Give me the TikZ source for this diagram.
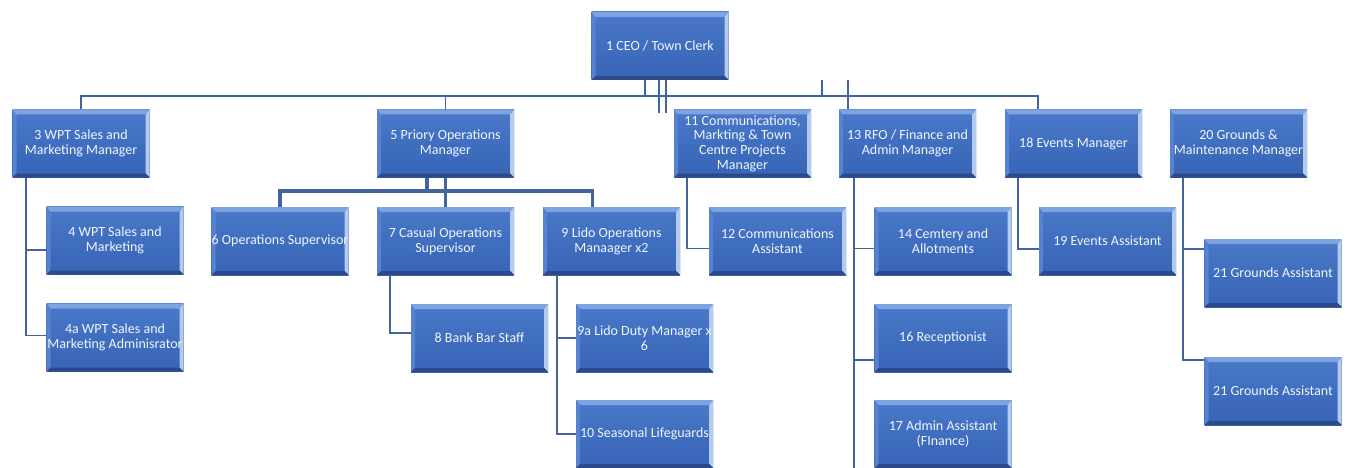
\documentclass[tikz,border=0pt]{standalone}
\usepackage{fontspec}
\setmainfont{Carlito}
\definecolor{facetop}{HTML}{4A79C9}
\definecolor{facebot}{HTML}{3764B6}
\definecolor{bevtop}{HTML}{7FA3E0}
\definecolor{bevleft}{HTML}{5682CF}
\definecolor{bevright}{HTML}{B5CBEE}
\definecolor{bevbot}{HTML}{2B4A87}
\definecolor{linkblue}{HTML}{44649C}
\definecolor{labelwhite}{HTML}{F1F5FC}
\tikzset{
  every node/.style={font=\fontsize{14}{14.7}\selectfont},
  post/.style={top color=facetop,bottom color=facebot,minimum width=137pt,minimum height=68pt,
    inner sep=0pt,align=center,text=labelwhite,
    path picture={
      \fill[bevleft] (path picture bounding box.north west)--([shift={(4pt,-5pt)}]path picture bounding box.north west)
        --([shift={(4pt,4pt)}]path picture bounding box.south west)--(path picture bounding box.south west)--cycle;
      \fill[bevright] (path picture bounding box.north east)--([shift={(-4pt,-5pt)}]path picture bounding box.north east)
        --([shift={(-4pt,4pt)}]path picture bounding box.south east)--(path picture bounding box.south east)--cycle;
      \fill[bevtop] (path picture bounding box.north west)--(path picture bounding box.north east)
        --([shift={(-4pt,-5pt)}]path picture bounding box.north east)--([shift={(4pt,-5pt)}]path picture bounding box.north west)--cycle;
      \fill[bevbot] (path picture bounding box.south west)--(path picture bounding box.south east)
        --([shift={(-4pt,4pt)}]path picture bounding box.south east)--([shift={(4pt,4pt)}]path picture bounding box.south west)--cycle;
    }},
  link/.style={draw=linkblue,line width=1.8pt},
  trunk/.style={draw=linkblue,line width=3.2pt}}
\begin{document}
\begin{tikzpicture}[x=1pt,y=-1pt]
\useasboundingbox (0,0) rectangle (1346,468);
\node[post] (ceo) at (660,46) {1 CEO / Town Clerk};
\node[post] (b3) at (81,143.5) {3 WPT Sales and\\Marketing Manager};
\node[post] (b5) at (445.5,143.5) {5 Priory Operations\\Manager};
\node[post] (b11) at (742.5,143.5) {11 Communications,\\Markting \& Town\\Centre Projects\\Manager};
\node[post] (b13) at (907.5,143.5) {13 RFO / Finance and\\Admin Manager};
\node[post] (b18) at (1073.5,143.5) {18 Events Manager};
\node[post] (b20) at (1238.5,143.5) {20 Grounds \&\\Maintenance Manager};
\node[post] (b4) at (115,240.5) {4 WPT Sales and\\Marketing};
\node[post] (b4a) at (115,337.5) {4a WPT Sales and\\Marketing Adminisrator};
\node[post] (b6) at (280,241) {6 Operations Supervisor};
\node[post] (b7) at (445.5,241) {7 Casual Operations\\Supervisor};
\node[post] (b9) at (611.5,241) {9 Lido Operations\\Manaager x2};
\node[post] (b8) at (479.5,338) {8 Bank Bar Staff};
\node[post] (b9a) at (644.5,338) {9a Lido Duty Manager x\\6};
\node[post] (b10) at (644.5,434) {10 Seasonal Lifeguards};
\node[post] (b12) at (777.5,241) {12 Communications\\Assistant};
\node[post] (b14) at (943,241) {14 Cemtery and\\Allotments};
\node[post] (b16) at (943,338) {16 Receptionist};
\node[post] (b17) at (943,434) {17 Admin Assistant\\(FInance)};
\node[post] (b19) at (1107.5,241) {19 Events Assistant};
\node[post] (b21a) at (1273,273) {21 Grounds Assistant};
\node[post] (b21b) at (1273,391) {21 Grounds Assistant};
\coordinate (bar) at (0,96);
\coordinate (opsbar) at (0,191);
\coordinate (foot) at (0,468);
\draw[link] (b3.north) |- ([xshift=33pt]b18.north west |- bar) -- ([xshift=33pt]b18.north west);
\draw[link] (b5.north) -- (b5.north |- bar);
\foreach \dx in {-15,162} \draw[link] ([xshift=\dx pt]ceo.south) -- ([xshift=\dx pt]ceo.south |- bar);
\foreach \dx in {-1,6} \draw[link] ([xshift=\dx pt]ceo.south) -- ++(0,33);
\draw[link] ([xshift=188pt]ceo.south) -- ([xshift=188pt]ceo.south |- b13.north);
\draw[trunk] (b6.north) |- ([xshift=50pt]b9.north west |- opsbar) -- ([xshift=50pt]b9.north west);
\draw[trunk] (b5.south) -- (b7.north);
\draw[trunk] ([xshift=-18.5pt]b5.south) -- ([xshift=-18.5pt]b5.south |- opsbar);
\foreach \kid/\dy in {b4/-9.5,b4a/2} \draw[link] ([xshift=14pt]b3.south west) |- ([yshift=\dy pt]\kid.west);
\draw[link] ([xshift=13pt]b7.south west) |- ([yshift=5pt]b8.west);
\foreach \kid in {b9a,b10} \draw[link] ([xshift=14pt]b9.south west) |- (\kid.west);
\draw[link] ([xshift=13pt]b11.south west) |- ([yshift=-7.5pt]b12.west);
\foreach \kid/\dy in {b14/-7.5,b16/-22} \draw[link] ([xshift=15pt]b13.south west) |- ([yshift=\dy pt]\kid.west);
\draw[link] ([xshift=15pt]b13.south west) -- ([xshift=15pt]b13.south west |- foot);
\draw[link] ([xshift=13pt]b18.south west) |- ([yshift=-8pt]b19.west);
\foreach \kid/\dy in {b21a/24,b21b/31} \draw[link] ([xshift=13pt]b20.south west) |- ([yshift=\dy pt]\kid.west);
\end{tikzpicture}
\end{document}
